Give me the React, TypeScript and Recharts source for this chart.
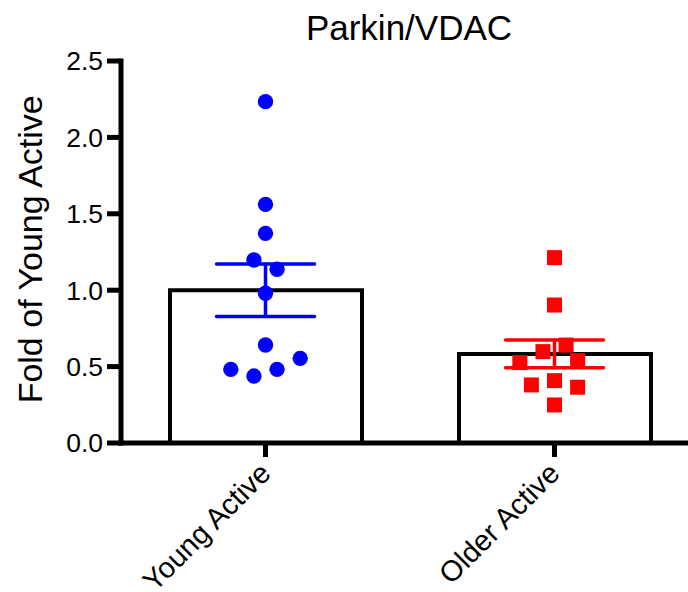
import React from 'react';
import { ComposedChart, Bar, Scatter, XAxis, YAxis, ErrorBar } from 'recharts';

const categories = ['Young Active', 'Older Active'];
const groupMeans = [1.0, 0.583];
const groupSem = [0.172, 0.091];
const yTicks = [0, 0.5, 1.0, 1.5, 2.0, 2.5];

const youngValues = [2.234, 1.562, 1.372, 1.198, 1.137, 0.98, 0.641, 0.554, 0.482, 0.482, 0.438];
const youngJitter = [0, 0, 0, -0.04, 0.04, 0, 0, 0.12, -0.12, 0.04, -0.04];
const olderValues = [1.213, 0.903, 0.641, 0.598, 0.526, 0.539, 0.408, 0.38, 0.365, 0.249];
const olderJitter = [0, 0, 0.04, -0.04, -0.12, 0.08, 0, -0.08, 0.08, 0];

const FONT = '"Liberation Sans", Arial, Helvetica, sans-serif';
const BLUE = '#0000ff';
const RED = '#ff0000';

const barData = categories.map((name, i) => ({ name, mean: groupMeans[i] }));
const youngMean = [{ x: 0, y: groupMeans[0], sem: groupSem[0] }];
const olderMean = [{ x: 1, y: groupMeans[1], sem: groupSem[1] }];
const youngPts = youngValues.map((v, i) => ({ x: 0 + youngJitter[i], y: v }));
const olderPts = olderValues.map((v, i) => ({ x: 1 + olderJitter[i], y: v }));

const XTick = (props: any) => {
  const { x, y, payload } = props;
  const ax = x + 7;
  const ay = y + 16;
  return (
    <text
      x={ax}
      y={ay}
      transform={`rotate(-45, ${ax}, ${ay})`}
      textAnchor="end"
      fontSize={29}
      fontFamily={FONT}
      fill="#000"
    >
      {payload.value}
    </text>
  );
};

const YLabel = (props: any) => {
  const vb = props.viewBox || { x: 0, y: 61, width: 121, height: 382 };
  const x = vb.x + 41.7;
  const y = vb.y + vb.height / 2 - 2.7;
  return (
    <text
      x={x}
      y={y}
      transform={`rotate(-90, ${x}, ${y})`}
      textAnchor="middle"
      fontSize={34}
      fontFamily={FONT}
      fill="#000"
    >
      Fold of Young Active
    </text>
  );
};

const Circle = (props: any) => <circle cx={props.cx} cy={props.cy} r={7.7} fill={BLUE} />;
const Square = (props: any) => (
  <rect x={props.cx - 7.5} y={props.cy - 7.5} width={15} height={15} fill={RED} />
);
const Empty = () => <g />;

export default function App() {
  return (
    <div style={{ position: 'absolute', left: 0, top: 0, width: 688, height: 592, overflow: 'hidden', background: '#fff' }}>
      <svg width={688} height={60} style={{ position: 'absolute', left: 0, top: 0 }}>
        <text x={409} y={40} textAnchor="middle" fontSize={35} fontFamily={FONT} fill="#000">
          Parkin/VDAC
        </text>
      </svg>
      <div style={{ position: 'absolute', left: 0, top: 0 }}>
        <ComposedChart
          width={700}
          height={592}
          data={barData}
          margin={{ top: 61, right: 1, bottom: 0, left: 0 }}
        >
          <XAxis
            xAxisId="cat"
            dataKey="name"
            type="category"
            interval={0}
            height={149}
            tickSize={14}
            tickMargin={2}
            axisLine={{ stroke: '#000', strokeWidth: 5, strokeLinecap: 'square' }}
            tickLine={{ stroke: '#000', strokeWidth: 5 }}
            tick={<XTick />}
          />
          <XAxis xAxisId="num" dataKey="x" type="number" hide domain={[-0.5, 1.5]} allowDataOverflow />
          <YAxis
            type="number"
            width={121}
            domain={[0, 2.5]}
            ticks={yTicks}
            interval={0}
            allowDataOverflow
            tickFormatter={(v: number) => v.toFixed(1)}
            tickSize={14}
            tickMargin={4}
            axisLine={{ stroke: '#000', strokeWidth: 5, strokeLinecap: 'square' }}
            tickLine={{ stroke: '#000', strokeWidth: 5 }}
            tick={{ fontSize: 26.5, fill: '#000', fontFamily: FONT }}
            label={{ content: <YLabel /> }}
          />
          <Bar
            xAxisId="cat"
            dataKey="mean"
            barSize={192}
            fill="#fff"
            stroke="#000"
            strokeWidth={4}
            isAnimationActive={false}
          />
          <Scatter xAxisId="num" data={youngMean} dataKey="y" shape={<Empty />} isAnimationActive={false}>
            <ErrorBar dataKey="sem" direction="y" width={49} stroke={BLUE} strokeWidth={3.5} strokeLinecap="round" isAnimationActive={false} />
          </Scatter>
          <Scatter xAxisId="num" data={olderMean} dataKey="y" shape={<Empty />} isAnimationActive={false}>
            <ErrorBar dataKey="sem" direction="y" width={49} stroke={RED} strokeWidth={3.5} strokeLinecap="round" isAnimationActive={false} />
          </Scatter>
          <Scatter xAxisId="num" data={youngPts} dataKey="y" shape={<Circle />} isAnimationActive={false} />
          <Scatter xAxisId="num" data={olderPts} dataKey="y" shape={<Square />} isAnimationActive={false} />
        </ComposedChart>
      </div>
    </div>
  );
}
